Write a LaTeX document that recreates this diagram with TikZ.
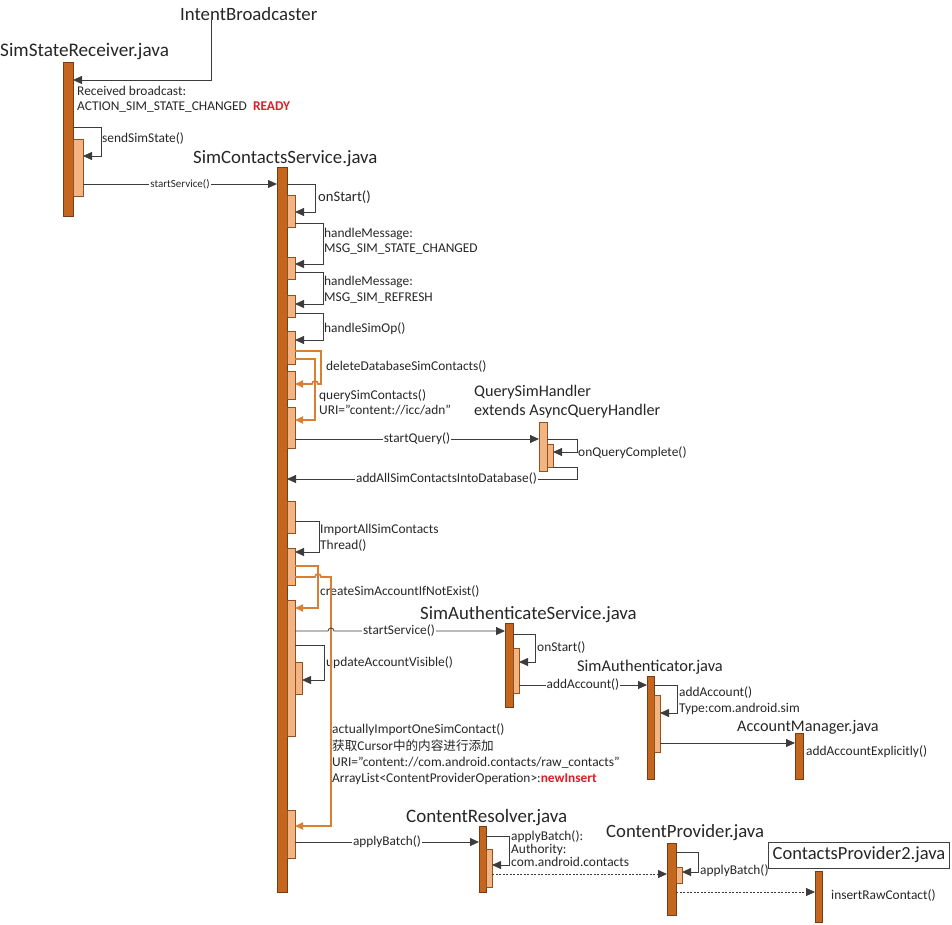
\documentclass[tikz,border=0pt]{standalone}
\usepackage{fontspec}
\setmainfont{Carlito}
\newfontfamily\cjk{Noto Sans CJK SC}
\usetikzlibrary{arrows.meta}
\definecolor{barfill}{RGB}{196,102,30}
\definecolor{bardraw}{RGB}{120,60,20}
\definecolor{actfill}{RGB}{242,180,130}
\definecolor{actdraw}{RGB}{150,80,30}
\definecolor{loopc}{RGB}{216,128,48}
\definecolor{linec}{RGB}{60,60,60}
\definecolor{redtxt}{RGB}{220,30,40}
\tikzset{
 lifebar/.style={draw=bardraw, fill=barfill, line width=0.5pt, inner sep=0, outer sep=0, anchor=north west},
 actbox/.style={draw=actdraw, fill=actfill, line width=0.5pt, inner sep=0, outer sep=0, anchor=north west},
 msg/.style={draw=linec, line width=0.8pt, -{Triangle[length=9pt,width=8pt]}},
 omsg/.style={draw=loopc, line width=1.7pt, -{Triangle[length=8pt,width=7pt]}},
 dmsg/.style={msg, dash pattern=on 2pt off 1.5pt},
 title/.style={font=\fontsize{18.8}{22}\selectfont, anchor=base west, inner sep=0, text=black!85},
 tsmall/.style={title, font=\fontsize{16.2}{19}\selectfont},
 lbl/.style={font=\fontsize{13.4}{15}\selectfont, anchor=base west, inner sep=0, text=black!85},
 onl/.style={font=\fontsize{13.3}{15}\selectfont, fill=white, inner sep=1pt, text=black!85},
}
\newcommand\mkbox[6]{\node[#1, minimum width={#4-#2}, minimum height={#5-#3}] (#6) at (#2,#3) {};}
\begin{document}
\begin{tikzpicture}[x=1pt,y=-1pt]
\useasboundingbox (0,0) rectangle (952,924);
% lifelines and activation boxes
\mkbox{lifebar}{63}{62}{73}{216}{ssr}
\mkbox{actbox}{73}{139}{83}{196}{ssrA}
\mkbox{lifebar}{277}{167}{287}{892}{scs}
\mkbox{actbox}{287}{195}{295}{227}{scsA}
\mkbox{actbox}{287}{257}{295}{279}{scsB}
\mkbox{actbox}{287}{295}{295}{317}{scsC}
\mkbox{actbox}{287}{331}{295}{364}{scsD}
\mkbox{actbox}{287}{371}{295}{399}{scsE}
\mkbox{actbox}{287}{407}{295}{448}{scsF}
\mkbox{actbox}{287}{501}{295}{533}{scsG}
\mkbox{actbox}{287}{548}{295}{585}{scsH}
\mkbox{actbox}{287}{600}{295}{736}{scsI}
\mkbox{actbox}{295}{662}{302}{694}{scsK}
\mkbox{actbox}{287}{810}{295}{858}{scsJ}
\mkbox{actbox}{539}{422}{547}{471}{qsh}
\mkbox{actbox}{547}{444}{553}{467}{qshA}
\mkbox{lifebar}{505}{623}{513}{707}{sas}
\mkbox{actbox}{513}{648}{519}{693}{sasA}
\mkbox{lifebar}{647}{676}{654}{779}{sa}
\mkbox{actbox}{654}{695}{660}{752}{saA}
\mkbox{lifebar}{795}{733}{803}{779}{am}
\mkbox{lifebar}{479}{826}{486}{892}{cr}
\mkbox{actbox}{486}{849}{492}{887}{crA}
\mkbox{lifebar}{667}{843}{676}{915}{cp}
\mkbox{actbox}{676}{867}{682}{883}{cpA}
\mkbox{lifebar}{815}{871}{822}{922}{cp2}
% titles
\node[title] (ib) at (180,20) {IntentBroadcaster};
\node[title, font=\fontsize{19.2}{22}\selectfont] (tssr) at (0,56) {SimStateReceiver.java};
\node[title] (tscs) at (193,163) {SimContactsService.java};
\node[tsmall] (tqsh1) at (474,396) {QuerySimHandler};
\node[tsmall] (tqsh2) at (474,415) {extends AsyncQueryHandler};
\node[title] (tsas) at (420,619) {SimAuthenticateService.java};
\node[tsmall, font=\fontsize{16.4}{19}\selectfont] (tsa) at (577,671) {SimAuthenticator.java};
\node[tsmall] (tam) at (737,731) {AccountManager.java};
\node[title, font=\fontsize{19}{22}\selectfont] (tcr) at (406,822) {ContentResolver.java};
\node[title, font=\fontsize{18.7}{22}\selectfont] (tcp) at (606,837) {ContentProvider.java};
\node[draw=black!75, line width=0.6pt, font=\fontsize{18.5}{22}\selectfont, text=black!85, minimum width=181, minimum height=26, inner sep=0] (tcp2) at (859,855) {ContactsProvider2.java};
% side labels
\node[lbl] (l1) at (77,95) {Received broadcast:};
\node[lbl] (l2) at (77,110) {ACTION\_SIM\_STATE\_CHANGED\ \ \textbf{\textcolor{redtxt}{READY}}};
\node[lbl] (l3) at (102,142) {sendSimState()};
\node[lbl, font=\fontsize{14.6}{17}\selectfont] (l4) at (318,201) {onStart()};
\node[lbl] (l5) at (324,237) {handleMessage:};
\node[lbl] (l6) at (324,252) {MSG\_SIM\_STATE\_CHANGED};
\node[lbl] (l7) at (324,285) {handleMessage:};
\node[lbl] (l8) at (324,301) {MSG\_SIM\_REFRESH};
\node[lbl] (l9) at (324,332) {handleSimOp()};
\node[lbl] (l10) at (326,370) {deleteDatabaseSimContacts()};
\node[lbl] (l11) at (319,399) {querySimContacts()};
\node[lbl] (l12) at (319,414) {URI="content://icc/adn"};
\node[lbl] (l13) at (578,456) {onQueryComplete()};
\node[lbl] (l14) at (320,533) {ImportAllSimContacts};
\node[lbl] (l15) at (320,549) {Thread()};
\node[lbl] (l16) at (320,595) {createSimAccountIfNotExist()};
\node[lbl] (l17) at (537,651) {onStart()};
\node[lbl] (l18) at (326,666) {updateAccountVisible()};
\node[lbl] (l19) at (679,696) {addAccount()};
\node[lbl] (l20) at (679,712) {Type:com.android.sim};
\node[lbl] (l21) at (806,755) {addAccountExplicitly()};
\node[lbl] (l22) at (332,733) {actuallyImportOneSimContact()};
\node[lbl] (l23) at (332,750) {{\cjk\fontsize{12.6}{15}\selectfont 获取}Cursor{\cjk\fontsize{12.6}{15}\selectfont 中的内容进行添加}};
\node[lbl] (l24) at (332,766) {URI="content://com.android.contacts/raw\_contacts"};
\node[lbl] (l25) at (332,782) {ArrayList<ContentProviderOperation>:\textbf{\textcolor{redtxt}{newInsert}}};
\node[lbl] (l26) at (511,840) {applyBatch():};
\node[lbl] (l27) at (511,853) {Authority:};
\node[lbl] (l28) at (511,866) {com.android.contacts};
\node[lbl] (l29) at (700,874) {applyBatch()};
\node[lbl] (l30) at (831,899) {insertRawContact()};
% messages
\draw[msg] (ib.south -| 211,0) |- (ssr.east |- 0,80);
\draw[msg] (ssr.east |- 0,127) -- (101,127) -- (101,156) -- (ssrA.east |- 0,156);
\draw[msg] (ssrA.east |- 0,184) -- node[onl, font=\fontsize{11}{13}\selectfont]{startService()} (scs.west |- 0,184);
\draw[msg] (scs.east |- 0,184) -- (315,184) -- (315,212) -- (scsA.east |- 0,212);
\draw[msg] (scsA.east |- 0,223) -- (323,223) -- (323,264) -- (scsB.east |- 0,264);
\draw[msg] (scsB.east |- 0,272) -- (323,272) -- (323,304) -- (scsC.east |- 0,304);
\draw[msg] (scsC.east |- 0,313) -- (323,313) -- (323,340) -- (scsD.east |- 0,340);
\draw[omsg] (scsD.east |- 0,351) -- (321,351) -- (321,384) -- (318,384) arc(0:-180:3) -- (scsE.east |- 0,384);
\draw[omsg] (scsD.east |- 0,359) -- (315,359) -- (315,420) -- (scsF.east |- 0,420);
\draw[msg] (scsF.east |- 0,439) -- node[onl]{startQuery()} (qsh.west |- 0,439);
\draw[msg] (qsh.east |- 0,439) -- (577,439) -- (577,452) -- (qshA.east |- 0,452);
\draw[msg] (qshA.east |- 0,467) -- (577,467) -- (577,479) -- node[onl, pos=0.45]{addAllSimContactsIntoDatabase()} (scs.east |- 0,479);
\draw[msg] (scsG.east |- 0,521) -- (319,521) -- (319,552) -- (scsH.east |- 0,552);
\draw[omsg] (scsH.east |- 0,566) -- (318,566) -- (318,608) -- (scsI.east |- 0,608);
\draw[omsg] (scsH.east |- 0,577) -- (315,577) arc(180:360:3) -- (331,577) -- (331,826) -- (scsJ.east |- 0,826);
\draw[msg] (scsI.east |- 0,631) -- (328,631) arc(180:360:3) -- node[onl, pos=0.38]{startService()} (sas.west |- 0,631);
\draw[msg] (sas.east |- 0,634) -- (535,634) -- (535,662) -- (sasA.east |- 0,662);
\draw[msg] (scsI.east |- 0,645) -- (324,645) -- (324,680) -- (scsK.east |- 0,680);
\draw[msg] (sasA.east |- 0,685) -- node[onl]{addAccount()} (sa.west |- 0,685);
\draw[msg] (sa.east |- 0,685) -- (677,685) -- (677,713) -- (saA.east |- 0,713);
\draw[msg] (saA.east |- 0,743) -- (am.west |- 0,743);
\draw[msg] (scsJ.east |- 0,842) -- node[onl]{applyBatch()} (cr.west |- 0,842);
\draw[msg] (cr.east |- 0,836) -- (509,836) -- (509,865) -- (crA.east |- 0,865);
\draw[dmsg] (crA.east |- 0,874) -- (cp.west |- 0,874);
\draw[msg] (cp.east |- 0,852) -- (698,852) -- (698,872) -- (cpA.east |- 0,872);
\draw[dmsg] (cp.east |- 0,892) -- (cp2.west |- 0,892);
\end{tikzpicture}
\end{document}
